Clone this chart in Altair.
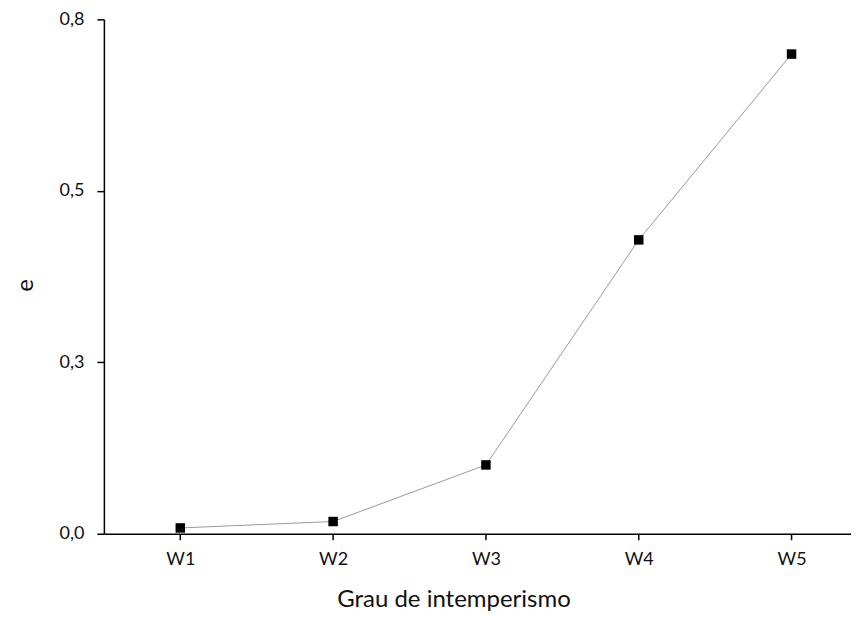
import altair as alt
import pandas as pd

categories = ["W1", "W2", "W3", "W4", "W5"]
values = [0.009, 0.019, 0.107, 0.457, 0.746]

df = pd.DataFrame({
    "cat": categories,
    "idx": list(range(1, len(categories) + 1)),
    "e": values,
})

FONT = "Lato"
yticks = [0, 0.8 / 3, 1.6 / 3, 0.8]

x = alt.X(
    "idx:Q",
    scale=alt.Scale(domain=[0.5, 5.389], nice=False, zero=False),
    axis=alt.Axis(
        values=[1, 2, 3, 4, 5],
        labelExpr="'W' + datum.value",
        title="Grau de intemperismo",
        grid=False,
        tickSize=6,
        labelPadding=11,
        titlePadding=19,
        titleX=350,
    ),
)
y = alt.Y(
    "e:Q",
    scale=alt.Scale(domain=[0, 0.8], nice=False),
    axis=alt.Axis(
        values=yticks,
        labelExpr="replace(format(datum.value, '.1f'), '.', ',')",
        title="e",
        grid=False,
        tickSize=7,
        labelPadding=13,
        titlePadding=22,
        titleY=266,
    ),
)

line = alt.Chart(df).mark_line(color="#9a9a9a", strokeWidth=1).encode(x=x, y=y)
pts = alt.Chart(df).mark_point(
    shape="square", filled=True, color="black", opacity=1, size=90
).encode(x=x, y=y)

chart = (
    alt.layer(line, pts)
    .properties(width=748, height=515,
                padding={"left": 5, "top": 2, "right": 0, "bottom": 0})
    .configure_view(stroke=None)
    .configure_axis(
        domainColor="black",
        domainWidth=1.5,
        tickColor="black",
        tickWidth=1.5,
        labelFont=FONT,
        labelFontSize=18,
        labelColor="#111111",
        titleFont=FONT,
        titleFontSize=24,
        titleFontWeight="normal",
        titleColor="#111111",
    )
)

chart.save("out.html", embed_options={"renderer": "svg", "actions": False})
